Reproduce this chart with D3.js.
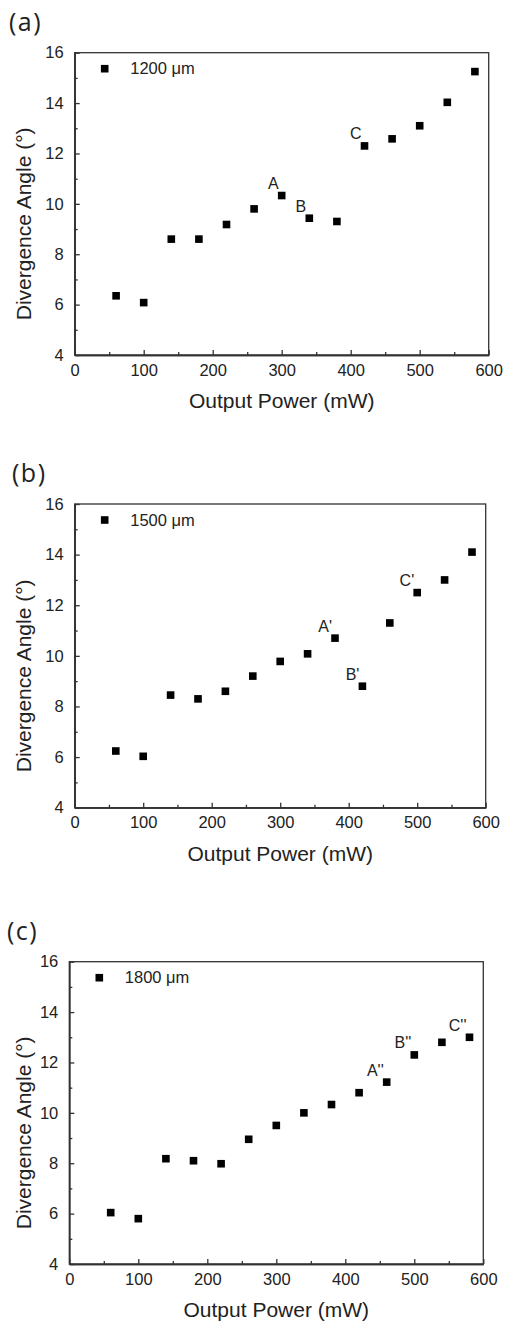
<!DOCTYPE html>
<html>
<head>
<meta charset="utf-8">
<script src="https://cdn.jsdelivr.net/npm/d3@7"></script>
<style>
  body { margin: 0; background: #fff; }
  svg { display: block; }
  .tick text { fill: #222; }
</style>
</head>
<body>
<div id="chart"></div>
<script>
// data
var power = [60, 100, 140, 180, 220, 260, 300, 340, 380, 420, 460, 500, 540, 580];
var angle1200 = [6.35, 6.08, 8.6, 8.6, 9.18, 9.8, 10.33, 9.43, 9.3, 12.3, 12.58, 13.1, 14.03, 15.25];
var angle1500 = [6.24, 6.03, 8.45, 8.3, 8.6, 9.2, 9.78, 10.08, 10.7, 8.8, 11.3, 12.5, 13.0, 14.1];
var angle1800 = [6.04, 5.8, 8.18, 8.1, 7.98, 8.95, 9.5, 10.0, 10.33, 10.8, 11.22, 12.3, 12.8, 13.0];

var lengths = ["1200 μm", "1500 μm", "1800 μm"];
var panelTags = ["(a)", "(b)", "(c)"];

// annotated points (text + x value of the point it sits on)
var notes1200 = ["A", "B", "C"];
var notes1200At = [300, 340, 420];
var notes1500 = ["A'", "B'", "C'"];
var notes1500At = [380, 420, 500];
var notes1800 = ["A''", "B''", "C''"];
var notes1800At = [460, 500, 580];

var xTicks = [0, 100, 200, 300, 400, 500, 600];
var xMinor = [50, 150, 250, 350, 450, 550];
var yTicks = [4, 6, 8, 10, 12, 14, 16];
var yMinor = [5, 7, 9, 11, 13, 15];

var series = [angle1200, angle1500, angle1800];
var notes = [notes1200, notes1500, notes1800];
var notesAt = [notes1200At, notes1500At, notes1800At];

// panel boxes in page pixels
var layout = [
    { left: 74.7, right: 488.7, top: 52.7, bottom: 355, tagX: 9 },
    { left: 74.7, right: 485.7, top: 504, bottom: 807.7, tagX: 12 },
    { left: 69.3, right: 483.3, top: 961.7, bottom: 1264, tagX: 7 }
];

var font = "'Liberation Sans', Arial, sans-serif";
var axisColor = "#333";

var svg = d3.select("#chart")
    .append("svg")
    .attr("width", 507)
    .attr("height", 1326)
    .style("font-family", font);

layout.forEach(function (box, i) {
    var width = box.right - box.left;
    var height = box.bottom - box.top;

    var g = svg.append("g")
        .attr("transform", `translate(${box.left}, ${box.top})`);

    var x = d3.scaleLinear().domain([0, 600]).range([0, width]);
    var y = d3.scaleLinear().domain([4, 16]).range([height, 0]);

    // frame (top and right sides have no ticks)
    g.append("rect")
        .attr("width", width)
        .attr("height", height)
        .attr("fill", "none")
        .attr("stroke", axisColor)
        .attr("stroke-width", 1.3);

    // minor ticks
    g.append("g")
        .attr("transform", `translate(0, ${height})`)
        .call(d3.axisBottom(x).tickValues(xMinor).tickSize(-3).tickSizeOuter(0).tickFormat(""));
    g.append("g")
        .call(d3.axisLeft(y).tickValues(yMinor).tickSize(-3).tickSizeOuter(0).tickFormat(""));

    // major ticks + labels
    var xAxis = g.append("g")
        .attr("transform", `translate(0, ${height})`)
        .call(d3.axisBottom(x).tickValues(xTicks).tickSize(-5).tickSizeOuter(0).tickPadding(9));
    var yAxis = g.append("g")
        .call(d3.axisLeft(y).tickValues(yTicks).tickSize(-5).tickSizeOuter(0).tickPadding(11));

    g.selectAll(".domain, .tick line")
        .attr("stroke", axisColor)
        .attr("stroke-width", 1.3);
    g.selectAll(".tick text")
        .style("font-family", font)
        .style("font-size", "16.5px");

    // points
    g.append("g")
        .selectAll("rect")
        .data(power.map(function (p, k) { return { p: p, a: series[i][k] }; }))
        .enter()
        .append("rect")
        .attr("x", d => x(d.p) - 3.8)
        .attr("y", d => y(d.a) - 3.8)
        .attr("width", 7.6)
        .attr("height", 7.6)
        .attr("fill", "#000");

    // point labels
    g.selectAll(".note")
        .data(notes[i])
        .enter()
        .append("text")
        .attr("class", "note")
        .attr("x", (d, k) => x(notesAt[i][k]) - 3)
        .attr("y", (d, k) => y(series[i][power.indexOf(notesAt[i][k])]) - 6.5)
        .attr("text-anchor", "end")
        .style("font-size", "16px")
        .attr("fill", "#222")
        .text(d => d);

    // legend
    g.append("rect")
        .attr("x", 30 - 3.8)
        .attr("y", 16 - 3.8)
        .attr("width", 7.6)
        .attr("height", 7.6)
        .attr("fill", "#000");
    g.append("text")
        .attr("x", 55.5)
        .attr("y", 21.8)
        .style("font-size", "16.5px")
        .attr("fill", "#222")
        .text(lengths[i]);

    // axis titles
    g.append("text")
        .attr("x", width / 2)
        .attr("y", height + 53)
        .attr("text-anchor", "middle")
        .style("font-size", "21px")
        .attr("fill", "#222")
        .text("Output Power (mW)");

    svg.append("text")
        .attr("transform", `translate(31, ${box.top + height / 2 + 20}) rotate(-90)`)
        .attr("text-anchor", "middle")
        .style("font-size", "21px")
        .attr("fill", "#222")
        .text("Divergence Angle (°)");

    // panel tag
    svg.append("text")
        .attr("x", box.tagX)
        .attr("y", box.top - 22)
        .style("font-family", "'Open Sans', 'Noto Sans', sans-serif")
        .style("font-size", "25px")
        .style("letter-spacing", "1.5px")
        .attr("fill", "#222")
        .text(panelTags[i]);
});
</script>
</body>
</html>
